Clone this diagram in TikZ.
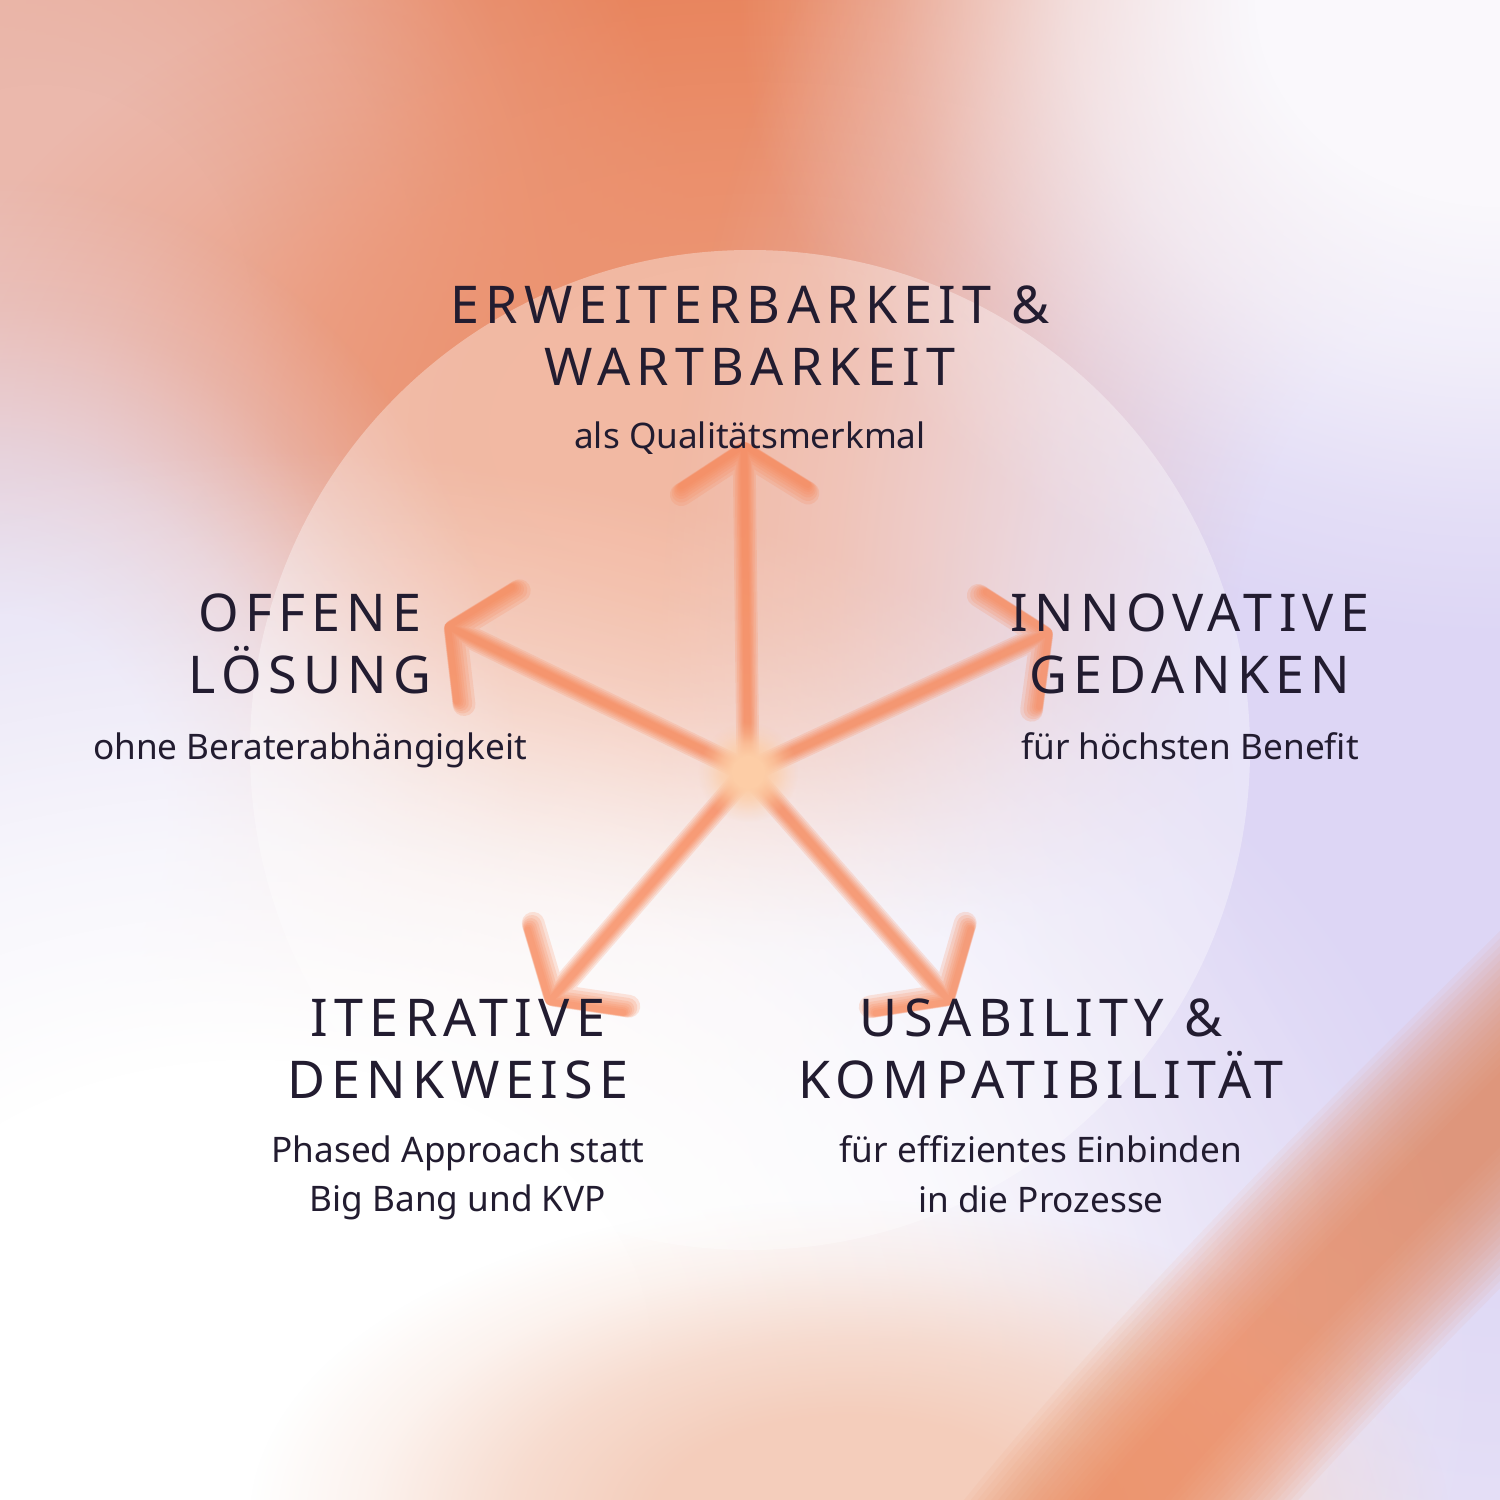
\documentclass[tikz,border=0pt]{standalone}
\usepackage{fontspec}
\setmainfont{Noto Sans}
\newfontfamily\capsfont[LetterSpace=12]{Noto Sans}
\usepackage{tikz}
\usetikzlibrary{
	positioning,
	arrows.meta,
	fadings
}

\definecolor{ink}{HTML}{221C30}
\definecolor{bgbase}{HTML}{F0ECF8}
\definecolor{orgtop}{HTML}{E8825A}
\definecolor{orgmid}{HTML}{EC9472}
\definecolor{peachtl}{HTML}{ECB4A5}
\definecolor{pinkl}{HTML}{EBB8AC}
\definecolor{peachb}{HTML}{F4CDBB}
\definecolor{orgbr}{HTML}{EC8859}
\definecolor{lavr}{HTML}{DDD6F5}
\definecolor{lavl}{HTML}{E6E1F5}
\definecolor{snow}{HTML}{FAF8FC}
\definecolor{rayc}{HTML}{F8885A}
\definecolor{glowc}{HTML}{FDCDA6}

% soft blob: opaque core, smooth edge
\pgfdeclareradialshading{blobshade}{\pgfpointorigin}{%
	color(0bp)=(white); color(8bp)=(white); color(14bp)=(white!70!black);
	color(20bp)=(white!25!black); color(25bp)=(black); color(50bp)=(black)}
\pgfdeclarefading{blob}{\pgfuseshading{blobshade}}

\tikzset{
	head/.style={font=\capsfont\fontsize{14.8}{17.6}\selectfont, text=ink, align=center, inner sep=0pt},
	sub/.style={font=\fontsize{10}{14.2}\selectfont, text=ink, align=center, inner sep=0pt},
	ray/.style={draw=rayc, line cap=round, line join=round,
		-{Straight Barb[length=11.5pt, width=36pt, round]}}
}

\begin{document}
\begin{tikzpicture}[x=0.01cm, y=-0.01cm]
	\useasboundingbox (0,0) rectangle (1500,1500);
	\clip (0,0) rectangle (1500,1500);

	% background blobs
	\fill[bgbase] (0,0) rectangle (1500,1500);
	\foreach \px/\py/\rx/\ry/\col in {
		0/200/550/700/peachtl,
		780/40/500/440/orgtop,
		1000/100/260/320/orgtop,
		40/330/330/380/pinkl,
		760/430/420/260/orgmid,
		1500/700/420/650/lavr,
		1500/0/380/320/snow,
		0/820/260/320/lavl,
		250/1350/620/450/white,
		850/1520/300/160/peachb}
		\fill[\col, path fading=blob] (\px,\py) ellipse ({2*\rx} and {2*\ry});

	% orange band, bottom right
	\coordinate (bandA) at (1620,990);
	\coordinate (bandB) at (1030,1620);
	\foreach \w in {15,18,...,72}
		\draw[orgbr, line width=\w pt, opacity=0.065]
			(bandA) .. controls (1420,1190) and (1220,1380) .. (bandB);

	% circle
	\fill[white, opacity=0.35] (750,750) circle (500);

	% rays
	\coordinate (c)   at (748,772);
	\coordinate (tU)  at (744,442);
	\coordinate (tL)  at (445,625);
	\coordinate (tR)  at (1052,631);
	\coordinate (tBL) at (547,1004);
	\coordinate (tBR) at (952,1004);

	\foreach \w in {6.5pt,5.5pt,4.5pt,3.7pt,3pt,2.4pt,1.8pt}{
		\begin{scope}[transparency group, opacity=0.2]
			\foreach \t in {tU,tL,tR,tBL,tBR}
				\draw[ray, line width=\w] (c) -- (\t);
		\end{scope}
	}
	\fill[glowc, path fading=blob] (c) circle (50);

	% labels
	\node[head] (erw) at (750,336) {ERWEITERBARKEIT \&\\WARTBARKEIT};
	\node[sub, below=0.35cm of erw] (erwS) {als Qualitätsmerkmal};

	\node[head] (off) at (310,644) {OFFENE\\LÖSUNG};
	\node[sub, below=0.37cm of off] (offS) {ohne Beraterabhängigkeit};

	\node[head] (inn) at (1190,644) {INNOVATIVE\\GEDANKEN};
	\node[sub, below=0.37cm of inn] (innS) {für höchsten Benefit};

	\node[head] (ite) at (458,1049) {ITERATIVE\\DENKWEISE};
	\node[sub, below=0.35cm of ite] (iteS) {Phased Approach statt\\Big Bang und KVP};

	\node[head] (usa) at (1041,1049) {USABILITY \&\\KOMPATIBILITÄT};
	\node[sub, below=0.35cm of usa] (usaS) {für effizientes Einbinden\\in die Prozesse};
\end{tikzpicture}
\end{document}
